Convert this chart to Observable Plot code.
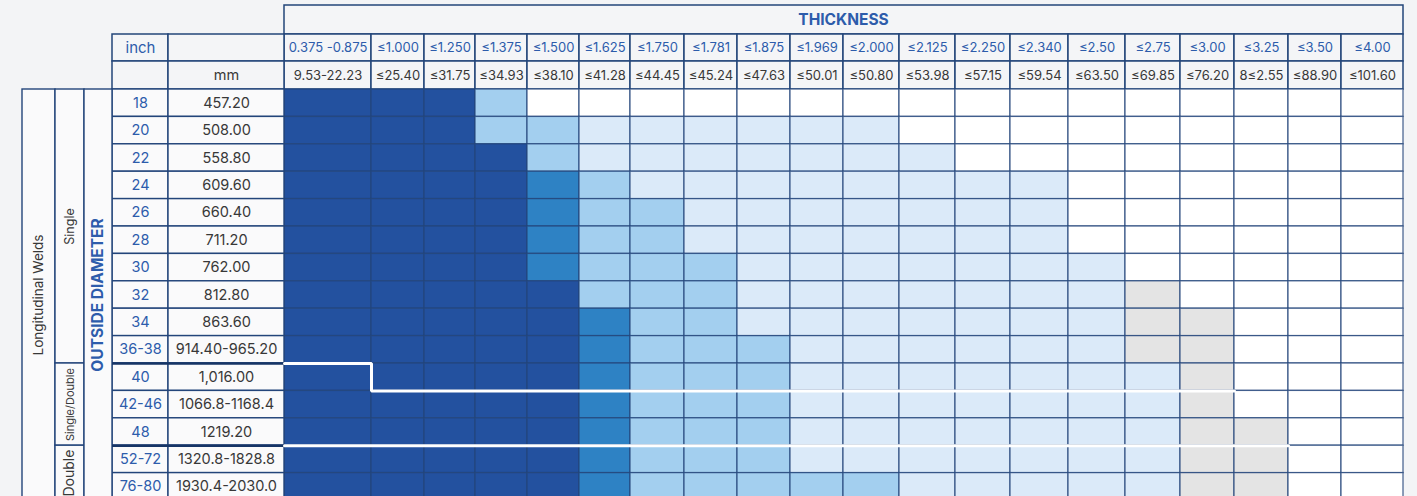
<!DOCTYPE html>
<html>
<head>
<meta charset="utf-8">
<script src="https://cdn.jsdelivr.net/npm/d3@7"></script>
<script src="https://cdn.jsdelivr.net/npm/@observablehq/plot@0.6"></script>
<style>
  html, body { margin: 0; padding: 0; background: #f3f4f6; }
  #chart svg { display: block; }
</style>
</head>
<body>
<div id="chart"></div>
<script>
// ---------------- DATA ----------------
const headerTitle = "THICKNESS";
const thicknessInch = ["0.375 -0.875","≤1.000","≤1.250","≤1.375","≤1.500","≤1.625","≤1.750","≤1.781","≤1.875","≤1.969","≤2.000","≤2.125","≤2.250","≤2.340","≤2.50","≤2.75","≤3.00","≤3.25","≤3.50","≤4.00"];
const thicknessMm = ["9.53-22.23","≤25.40","≤31.75","≤34.93","≤38.10","≤41.28","≤44.45","≤45.24","≤47.63","≤50.01","≤50.80","≤53.98","≤57.15","≤59.54","≤63.50","≤69.85","≤76.20","8≤2.55","≤88.90","≤101.60"];
const odInch = ["18","20","22","24","26","28","30","32","34","36-38","40","42-46","48","52-72","76-80"];
const odMm = ["457.20","508.00","558.80","609.60","660.40","711.20","762.00","812.80","863.60","914.40-965.20","1,016.00","1066.8-1168.4","1219.20","1320.8-1828.8","1930.4-2030.0"];
const weldType = ["Single","Single","Single","Single","Single","Single","Single","Single","Single","Single","Single/Double","Single/Double","Single/Double","Double","Double"];
const groupLabel = "Longitudinal Welds";
const odLabel = "OUTSIDE DIAMETER";
const unitInch = "inch";
const unitMm = "mm";
// availability level per OD row and thickness column: 4 dark, 3 medium, 2 light, 1 pale, 9 grey, 0 none
const levels = [
  "44420000000000000000",
  "44422111111000000000",
  "44442111111100000000",
  "44443211111111000000",
  "44443221111111000000",
  "44443221111111000000",
  "44443222111111100000",
  "44444222111111190000",
  "44444322111111199000",
  "44444322211111199000",
  "44444322211111119000",
  "44444322211111119000",
  "44444322211111119900",
  "44444322211111119900",
  "44444322222111119900"
];
// first OD row of the next weld zone, for each thickness column (white limit lines)
const limitSingle = ["40","42-46","42-46","42-46","42-46","42-46","42-46","42-46","42-46","42-46","42-46","42-46","42-46","42-46","42-46","42-46","42-46"];
const limitDouble = ["52-72","52-72","52-72","52-72","52-72","52-72","52-72","52-72","52-72","52-72","52-72","52-72","52-72","52-72","52-72","52-72","52-72","52-72"];

// ---------------- LAYOUT (sizes only) ----------------
const leftStart = 22;
const leftWidths = [33, 29, 28, 56, 116];          // welds, weld type, OD, inch, mm
const colWidths = [87,53,51,52,52,51,54,53,53,53,56,56,55,58,57,55,54,54,53,62];
const topStart = 5;
const headRowHeights = [29, 27, 28];
const dataRowHeight = 27.4;

const xDomain = d3.range(-leftWidths.length, colWidths.length + 1);
const xRange = [leftStart];
for (const w of leftWidths.concat(colWidths)) xRange.push(xRange[xRange.length - 1] + w);
const nRows = headRowHeights.length + odInch.length;
const yDomain = d3.range(0, nRows + 1);
const yRange = [topStart];
for (const h of headRowHeights.concat(odInch.map(() => dataRowHeight))) yRange.push(yRange[yRange.length - 1] + h);

const H = headRowHeights.length; // first data row index
const rowIdx = r => H + odInch.indexOf(r);

// ---------------- STYLE ----------------
const C = {
  bg: "#f3f4f6", head: "#f4f5f7", label: "#fafafb",
  border: "#23457a", blue: "#2d5cab", text: "#383838"
};
const levelColors = {domain: [0, 1, 2, 3, 4, 9], range: ["#ffffff", "#dbeaf9", "#a3cfef", "#2e82c4", "#23519f", "#e4e4e4"]};

// ---------------- DERIVED TABLES ----------------
const cells = [];
levels.forEach((row, r) => {
  row.split("").forEach((ch, c) => cells.push({c, r: H + r, level: +ch}));
});
const headCells = [];
thicknessInch.forEach((t, c) => headCells.push({c, r: 1, label: t, color: C.blue}));
thicknessMm.forEach((t, c) => headCells.push({c, r: 2, label: t, color: C.text}));

const odCells = [];
odInch.forEach((t, i) => odCells.push({c: -2, r: H + i, label: t, color: C.blue}));
odMm.forEach((t, i) => odCells.push({c: -1, r: H + i, label: t, color: C.text}));

// weld type spans
const weldSpans = [];
weldType.forEach((w, i) => {
  const last = weldSpans[weldSpans.length - 1];
  if (last && last.label === w) last.r2 = H + i + 1;
  else weldSpans.push({label: w, r1: H + i, r2: H + i + 1});
});
const weldFont = {"Single": 12.5, "Single/Double": 11, "Double": 14};

function limitLine(arr) {
  const pts = [];
  arr.forEach((r, c) => { const y = rowIdx(r); pts.push({x: c, y}, {x: c + 1, y}); });
  return pts;
}
const zoneRules = weldSpans.slice(1).map(s => ({y: s.r1}));

const font = "Inter, 'Noto Sans', sans-serif";

const chart = Plot.plot({
  width: 1417,
  height: 496,
  margin: 0,
  style: {background: C.bg, fontFamily: font, overflow: "hidden"},
  x: {type: "linear", domain: xDomain, range: xRange, axis: null},
  y: {type: "linear", domain: yDomain, range: yRange, axis: null},
  color: {type: "ordinal", ...levelColors},
  marks: [
    // header cells
    Plot.rect([{}], {x1: 0, x2: colWidths.length, y1: 0, y2: 1, fill: C.head, stroke: C.border, strokeWidth: 1.5}),
    Plot.rect(headCells, {x1: "c", x2: d => d.c + 1, y1: "r", y2: d => d.r + 1, fill: C.head, stroke: C.border, strokeWidth: 1.5}),
    Plot.rect([{c: -2, r: 1}, {c: -1, r: 1}, {c: -2, r: 2}, {c: -1, r: 2}], {x1: "c", x2: d => d.c + 1, y1: "r", y2: d => d.r + 1, fill: C.head, stroke: C.border, strokeWidth: 1.5}),
    // data grid
    Plot.rect(cells, {x1: "c", x2: d => d.c + 1, y1: "r", y2: d => d.r + 1, fill: "level", stroke: C.border, strokeWidth: 1.3, strokeOpacity: 0.8}),
    // row labels
    Plot.rect(odCells, {x1: "c", x2: d => d.c + 1, y1: "r", y2: d => d.r + 1, fill: C.label, stroke: C.border, strokeWidth: 1.4}),
    // group columns
    Plot.rect([{}], {x1: -5, x2: -4, y1: H, y2: nRows, fill: C.label, stroke: C.border, strokeWidth: 1.4}),
    Plot.rect(weldSpans, {x1: -4, x2: -3, y1: "r1", y2: "r2", fill: C.label, stroke: C.border, strokeWidth: 1.4}),
    Plot.rect([{}], {x1: -3, x2: -2, y1: H, y2: nRows, fill: C.label, stroke: C.border, strokeWidth: 1.4}),
    // zone separators in label columns
    Plot.ruleY(zoneRules, {y: "y", x1: -2, x2: 0, stroke: "#163566", strokeWidth: 2.6}),
    // white limit lines
    Plot.line(limitLine(limitSingle), {x: "x", y: "y", stroke: "#ffffff", strokeWidth: 3, strokeLinejoin: "miter"}),
    Plot.line(limitLine(limitDouble), {x: "x", y: "y", stroke: "#ffffff", strokeWidth: 3}),
    // texts
    Plot.text([headerTitle], {x: colWidths.length / 2, y: 0.5, text: d => d, fill: C.blue, fontSize: 15.5, fontWeight: 700}),
    Plot.text(headCells, {x: d => d.c + 0.5, y: d => d.r + 0.5, text: "label", fill: "color", fontSize: 13}),
    Plot.text([unitInch], {x: -1.5, y: 1.5, text: d => d, fill: C.blue, fontSize: 15}),
    Plot.text([unitMm], {x: -0.5, y: 2.5, text: d => d, fill: C.text, fontSize: 14.5}),
    Plot.text(odCells, {x: d => d.c + 0.5, y: d => d.r + 0.5, text: "label", fill: "color", fontSize: 14.5}),
    Plot.text([groupLabel], {x: -4.5, y: (H + nRows) / 2, text: d => d, rotate: -90, fill: C.text, fontSize: 13.5}),
    Plot.text(weldSpans, {x: -3.5, y: d => (d.r1 + d.r2) / 2, text: "label", rotate: -90, fill: C.text, fontSize: d => weldFont[d.label]}),
    Plot.text([odLabel], {x: -2.5, y: (H + nRows) / 2, text: d => d, rotate: -90, fill: C.blue, fontSize: 15.5, fontWeight: 700})
  ]
});
document.getElementById("chart").appendChild(chart);
</script>
</body>
</html>
